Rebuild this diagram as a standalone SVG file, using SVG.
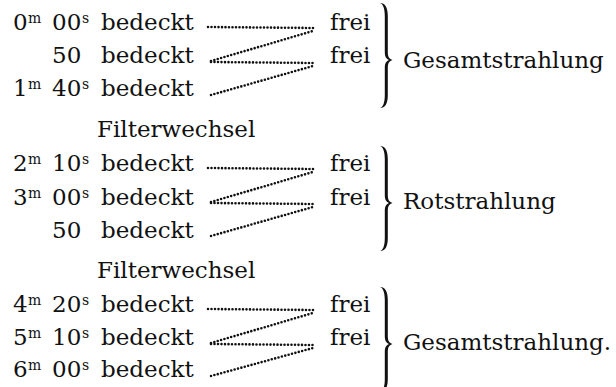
<svg xmlns="http://www.w3.org/2000/svg" width="616" height="387" viewBox="0 0 616 387">
  <defs>
    <style>
      text { font-family: "DejaVu Serif", "Liberation Serif", serif; fill: #111; }
      .t { font-size: 23px; }
      .sup { font-size: 14px; }
      .dots { fill: none; stroke: #111; stroke-width: 2.6; stroke-linecap: round; stroke-dasharray: 0 3.5; }
      .brace { fill: #111; stroke: none; }
    </style>
    <!-- right-pointing curly brace, 105 px tall, tip at y=57 -->
    <path id="brace" class="brace" d="M380,0 C385,0 387.8,4 387.8,13 L387.8,49 C387.8,54 389.3,56 392.5,57 C389.3,58 387.8,60 387.8,65 L387.8,92 C387.8,101 385,105 380,105 C383,104 384.8,100 384.8,92 L384.8,65 C384.8,60 386.5,58 389,57 C386.5,56 384.8,54 384.8,49 L384.8,13 C384.8,5 383,1 380,0 Z"/>
  </defs>
  <rect width="616" height="387" fill="#fff"/>

  <!-- group 1: total radiation -->
  <g id="row-0m00s">
    <text class="t" x="13" y="30">0</text><text class="sup" x="28" y="23">m</text>
    <text class="t" x="52" y="30">00</text><text class="sup" x="82" y="23">s</text>
    <text class="t" x="101" y="30">bedeckt</text>
  </g>
  <g id="row-50a">
    <text class="t" x="52" y="63">50</text>
    <text class="t" x="101" y="63">bedeckt</text>
  </g>
  <g id="row-1m40s">
    <text class="t" x="13" y="96">1</text><text class="sup" x="28" y="89">m</text>
    <text class="t" x="52" y="96">40</text><text class="sup" x="82" y="89">s</text>
    <text class="t" x="101" y="96">bedeckt</text>
  </g>
  <g id="frei-1a"><text class="t" x="330" y="30">frei</text></g>
  <g id="frei-1b"><text class="t" x="330" y="63">frei</text></g>
  <g id="brace-1"><use href="#brace" transform="translate(0,3)"/></g>
  <g id="label-1"><text class="t" x="403" y="68">Gesamtstrahlung</text></g>

  <g id="filter-1"><text class="t" x="97" y="137">Filterwechsel</text></g>

  <!-- group 2: red radiation -->
  <g id="row-2m10s">
    <text class="t" x="13" y="171">2</text><text class="sup" x="28" y="164">m</text>
    <text class="t" x="52" y="171">10</text><text class="sup" x="82" y="164">s</text>
    <text class="t" x="101" y="171">bedeckt</text>
  </g>
  <g id="row-3m00s">
    <text class="t" x="13" y="205">3</text><text class="sup" x="28" y="198">m</text>
    <text class="t" x="52" y="205">00</text><text class="sup" x="82" y="198">s</text>
    <text class="t" x="101" y="205">bedeckt</text>
  </g>
  <g id="row-50b">
    <text class="t" x="52" y="238">50</text>
    <text class="t" x="101" y="238">bedeckt</text>
  </g>
  <g id="frei-2a"><text class="t" x="330" y="171">frei</text></g>
  <g id="frei-2b"><text class="t" x="330" y="205">frei</text></g>
  <g id="brace-2"><use href="#brace" transform="translate(0,146)"/></g>
  <g id="label-2"><text class="t" x="403" y="209">Rotstrahlung</text></g>

  <g id="filter-2"><text class="t" x="97" y="278">Filterwechsel</text></g>

  <!-- group 3: total radiation -->
  <g id="row-4m20s">
    <text class="t" x="13" y="312">4</text><text class="sup" x="28" y="305">m</text>
    <text class="t" x="52" y="312">20</text><text class="sup" x="82" y="305">s</text>
    <text class="t" x="101" y="312">bedeckt</text>
  </g>
  <g id="row-5m10s">
    <text class="t" x="13" y="345">5</text><text class="sup" x="28" y="338">m</text>
    <text class="t" x="52" y="345">10</text><text class="sup" x="82" y="338">s</text>
    <text class="t" x="101" y="345">bedeckt</text>
  </g>
  <g id="row-6m00s">
    <text class="t" x="13" y="377">6</text><text class="sup" x="28" y="370">m</text>
    <text class="t" x="52" y="377">00</text><text class="sup" x="82" y="370">s</text>
    <text class="t" x="101" y="377">bedeckt</text>
  </g>
  <g id="frei-3a"><text class="t" x="330" y="312">frei</text></g>
  <g id="frei-3b"><text class="t" x="330" y="345">frei</text></g>
  <g id="brace-3"><use href="#brace" transform="translate(0,287)"/></g>
  <g id="label-3"><text class="t" x="403" y="350">Gesamtstrahlung.</text></g>

  <!-- dotted leaders from each reading to the "frei" entries -->
  <g id="connectors">
    <path class="dots" d="M208,27 L313,28"/>
    <path class="dots" d="M211,61 L313,31"/>
    <path class="dots" d="M211,62 L313,63"/>
    <path class="dots" d="M211,95 L313,66"/>

    <path class="dots" d="M208,168 L313,169"/>
    <path class="dots" d="M211,202 L313,172"/>
    <path class="dots" d="M211,203 L313,204"/>
    <path class="dots" d="M211,236 L313,207"/>

    <path class="dots" d="M208,309 L313,310"/>
    <path class="dots" d="M211,343 L313,313"/>
    <path class="dots" d="M211,344 L313,345"/>
    <path class="dots" d="M211,376 L313,348"/>
  </g>
</svg>
